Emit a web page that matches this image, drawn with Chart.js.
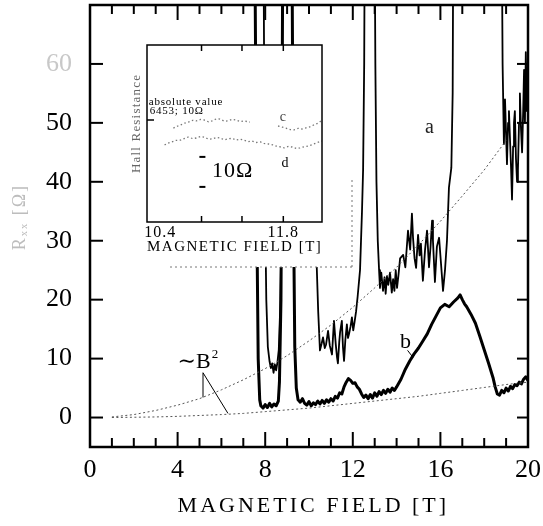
<!DOCTYPE html>
<html>
<head>
<meta charset="utf-8">
<script src="https://cdn.jsdelivr.net/npm/chart.js@4.4.1/dist/chart.umd.min.js"></script>
<style>
  html, body { margin: 0; padding: 0; background: #fff; }
  #wrap { position: relative; width: 543px; height: 526px; overflow: hidden; }
  #main { position: absolute; left: 0; top: 0; }
  #inset { position: absolute; left: 125px; top: 40px; }
</style>
</head>
<body>
<div id="wrap">
  <canvas id="main" width="543" height="526" style="width:543px;height:526px"></canvas>
  <canvas id="inset" width="235" height="232" style="width:235px;height:232px"></canvas>
</div>
<script>
// ---- main panel data (field in T, resistance in Ohm) ----
const xTicks = [0, 4, 8, 12, 16, 20];
const yTicks = [0, 10, 20, 30, 40, 50, 60];

// curve a (thin); values above 70 run off the top of the frame
const aField = [7.90, 7.98, 8.05, 8.12, 8.20, 8.26, 8.32, 8.38, 8.44, 8.50, 8.56, 8.62, 8.68, 8.74, 8.82,
  9.00, 9.50, 10.00, 10.25, 10.35, 10.42, 10.50, 10.58, 10.64, 10.72, 10.78, 10.87, 10.95, 11.05, 11.14,
  11.22, 11.28, 11.32, 11.38, 11.42, 11.50, 11.55, 11.60, 11.66, 11.73, 11.78, 11.83, 11.90, 11.96, 12.02,
  12.08, 12.15, 12.22, 12.33, 12.42, 12.47, 12.52, 12.56,
  12.98, 13.03, 13.08, 13.14, 13.20, 13.24, 13.30, 13.38, 13.45, 13.50, 13.56, 13.62, 13.70, 13.78, 13.84,
  13.90, 13.96, 14.02, 14.08, 14.16, 14.30, 14.40, 14.52, 14.62, 14.70, 14.75, 14.82, 14.89, 14.98, 15.05,
  15.11, 15.20, 15.30, 15.39, 15.48, 15.55, 15.62, 15.66, 15.75, 15.84, 15.94, 16.03, 16.12, 16.21, 16.30,
  16.39, 16.50, 16.56, 16.60,
  18.78, 18.84, 18.90, 18.95, 19.00, 19.04, 19.09, 19.13, 19.18, 19.23, 19.27, 19.32, 19.36, 19.40, 19.45,
  19.50, 19.54, 19.59, 19.63, 19.68, 19.73, 19.78, 19.82, 19.86, 19.90, 19.95, 20.00];
const aRes = [95, 40, 20, 12, 9.5, 8.4, 9.2, 7.6, 9.0, 8.0, 9.4, 11.5, 18, 30, 45,
  56, 61, 58, 45, 26, 18, 11.4, 12.6, 13.6, 11.8, 12.4, 14.7, 12.2, 10.7, 16.4,
  12.5, 10.2, 9.2, 12.8, 14.5, 16.4, 12.0, 9.6, 13.2, 15.8, 13.5, 14.2, 15.5, 17.0, 14.8,
  16.2, 18.0, 20.5, 25, 35, 42, 60, 95,
  95, 60, 40, 30, 25, 22, 24.6, 21.5, 23.8, 21.0, 24.0, 22.5, 24.6, 21.2, 23.5,
  21.5, 25.0, 22.0, 24.0, 27.0, 27.6, 25.5, 31.7, 28.5, 34.6, 30.5, 27.0, 25.4, 31.0, 27.5,
  29.5, 23.2, 28.5, 31.7, 25.5, 29.0, 33.4, 30.0, 23.0, 29.0, 30.5, 26.0, 21.5, 25.0, 30.0,
  39.0, 42.4, 55, 95,
  95, 60, 46.4, 54, 48, 43, 50, 52, 47, 42, 37, 46, 50, 52, 44,
  40, 42, 50, 55, 49, 45, 52, 59, 50, 62, 52, 56];

// curve b (thick)
const bField = [7.50, 7.60, 7.68, 7.75, 7.80, 7.90, 8.00, 8.10, 8.20, 8.30, 8.40, 8.50, 8.60, 8.65, 8.72,
  8.78, 8.82, 9.20, 9.28, 9.35, 9.42, 9.50, 9.60, 9.70, 9.80, 9.90, 10.0, 10.1, 10.2, 10.3,
  10.4, 10.5, 10.6, 10.7, 10.8, 10.9, 11.0, 11.1, 11.2, 11.3, 11.4, 11.5, 11.6, 11.7, 11.8,
  11.9, 12.0, 12.1, 12.2, 12.3, 12.4, 12.5, 12.6, 12.7, 12.8, 12.9, 13.0, 13.1, 13.2, 13.3,
  13.4, 13.5, 13.6, 13.7, 13.8, 13.9, 14.0, 14.2, 14.4, 14.6, 14.8, 15.0, 15.2, 15.4, 15.6,
  15.8, 16.0, 16.2, 16.4, 16.6, 16.8, 16.9, 17.0, 17.1, 17.2, 17.4, 17.6, 17.8, 18.0, 18.2,
  18.4, 18.5, 18.6, 18.7, 18.8, 18.9, 19.0, 19.1, 19.2, 19.3, 19.4, 19.5, 19.6, 19.7, 19.8,
  19.9, 20.0];
const bRes = [95, 40, 10, 3, 2, 1.6, 2.2, 1.7, 2.4, 1.8, 2.3, 2.0, 2.8, 6, 20,
  60, 95, 95, 40, 12, 5, 3, 2.6, 3.2, 2.4, 2.1, 2.7, 2.0, 2.5, 2.2,
  2.8, 2.3, 2.9, 2.4, 3.0, 2.6, 3.2, 2.8, 3.6, 3.3, 4.2, 4.0, 5.2, 6.0, 6.6,
  6.3, 5.8, 5.9, 5.2, 4.8, 4.0, 3.4, 3.8, 3.2, 3.9, 3.3, 4.2, 3.6, 4.4, 3.9,
  4.6, 4.1, 4.8, 4.3, 5.0, 4.6, 5.2, 6.5, 8.2, 9.6, 10.8, 11.8, 13.0, 14.2, 15.8,
  17.2, 18.6, 19.2, 18.8, 19.6, 20.3, 20.8, 20.0, 19.3, 18.8, 17.5, 16.0, 13.8, 11.5, 9.2,
  6.8, 5.2, 4.0, 3.8, 4.6, 4.2, 5.0, 4.5, 5.3, 4.9, 5.6, 5.4, 6.0, 5.7, 6.5,
  6.9, 6.3];

// dotted ~B^2 backgrounds
const bgAField = [1, 2, 3, 4, 5, 6, 7, 8, 9, 10, 11, 12, 13, 14, 15, 16, 17, 18, 19];
const bgARes = [0.1, 0.5, 1.2, 2.1, 3.2, 4.7, 6.4, 8.3, 10.5, 13, 15.7, 18.7, 22, 25.5, 29.3, 33.3, 37.6, 42, 47];
const bgBField = [1, 2, 3, 4, 5, 6, 7, 8, 9, 10, 11, 12, 13, 14, 15, 16, 17, 18, 19, 20];
const bgBRes = [0, 0.05, 0.1, 0.2, 0.35, 0.5, 0.7, 1.0, 1.3, 1.6, 2.0, 2.4, 2.8, 3.2, 3.6, 4.1, 4.6, 5.1, 5.6, 6.0];

// leader lines for the labels
const b2LeaderField = [5.16, 5.16, null, 5.16, 6.3];
const b2LeaderRes = [3.4, 7.6, null, 7.6, 0.7];
const bLeaderField = [14.5, 14.75];
const bLeaderRes = [11.4, 10.2];

// ---- inset data ----
const insetTicks = [10.4, 10.87, 11.33, 11.8];
const insetLabels = [10.4, 11.8];
const cField = [10.55, 10.60, 10.63, 10.68, 10.72, 10.77, 10.81, 10.86, 10.90, 10.95, 10.99, 11.04, 11.08, 11.13,
  11.17, 11.22, 11.26, 11.31, 11.35, 11.42, 11.60, 11.74, 11.79, 11.83, 11.88, 11.92, 11.97, 12.01, 12.06,
  12.10, 12.15, 12.20, 12.24];
const cRes = [31.3, 32.0, 32.3, 33.0, 33.3, 33.9, 33.7, 34.2, 34.0, 33.4, 33.7, 34.4, 34.3, 33.6,
  33.7, 34.2, 34.0, 33.5, 33.7, 33.3, null, 32.0, 31.6, 31.3, 30.8, 30.7, 31.2, 31.0, 31.4,
  31.7, 32.4, 33.0, 34.0];
const dField = [10.45, 10.49, 10.53, 10.58, 10.63, 10.68, 10.72, 10.77, 10.81, 10.86, 10.90, 10.95, 10.99, 11.04,
  11.08, 11.13, 11.17, 11.22, 11.26, 11.31, 11.35, 11.40, 11.44, 11.49, 11.54, 11.58, 11.63, 11.68, 11.72,
  11.77, 11.81, 11.86, 11.90, 11.95, 11.99, 12.04, 12.08, 12.13, 12.17, 12.24];
const dRes = [25.7, 26.3, 26.7, 27.2, 27.3, 27.9, 28.3, 27.8, 28.0, 28.5, 28.3, 27.6, 27.7, 28.2,
  28.0, 27.4, 27.7, 27.9, 27.3, 27.6, 27.3, 26.8, 27.0, 26.5, 26.7, 26.2, 26.0, 25.7, 25.3,
  25.0, 24.7, 25.2, 25.0, 24.5, 24.7, 25.1, 25.3, 25.8, 26.3, 27.0];

const serif = "'Liberation Serif', 'DejaVu Serif', serif";

function pts(xs, ys) {
  return xs.map((v, i) => ({ x: v, y: v === null ? null : ys[i] }));
}

function seg(ctx, x1, y1, x2, y2) {
  ctx.beginPath();
  ctx.moveTo(x1, y1);
  ctx.lineTo(x2, y2);
  ctx.stroke();
}

const mainFrame = {
  id: 'mainFrame',
  afterDraw(chart) {
    const { ctx, chartArea: a, scales: { x, y } } = chart;
    ctx.save();
    ctx.strokeStyle = '#000';
    ctx.lineWidth = 2.5;
    ctx.strokeRect(a.left, a.top, a.right - a.left, a.bottom - a.top);

    // inward tick marks
    ctx.lineWidth = 2;
    for (let b = 1; b < 20; b++) {
      const px = x.getPixelForValue(b);
      const len = b % 4 === 0 ? 15 : 9;
      seg(ctx, px, a.bottom, px, a.bottom - len);
      seg(ctx, px, a.top, px, a.top + len);
    }
    yTicks.forEach(v => {
      const py = y.getPixelForValue(v);
      seg(ctx, a.left, py, a.left + 13, py);
      seg(ctx, a.right, py, a.right - 11, py);
    });

    // axis titles
    ctx.fillStyle = '#000';
    ctx.font = '22px ' + serif;
    ctx.letterSpacing = '3px';
    ctx.textAlign = 'center';
    ctx.textBaseline = 'middle';
    ctx.fillText('MAGNETIC FIELD [T]', x.getPixelForValue(10.2), 506);

    ctx.save();
    ctx.translate(20, y.getPixelForValue(34));
    ctx.rotate(-Math.PI / 2);
    ctx.fillStyle = '#bdbdbd';
    ctx.font = '18px ' + serif;
    ctx.letterSpacing = '2px';
    ctx.fillText('R\u2093\u2093 [\u03A9]', 0, 0);
    ctx.restore();

    // curve labels
    ctx.letterSpacing = '0px';
    ctx.textAlign = 'left';
    ctx.fillStyle = '#222';
    ctx.font = '20px ' + serif;
    ctx.fillText('a', x.getPixelForValue(15.3), y.getPixelForValue(49.2));
    ctx.fillStyle = '#000';
    ctx.font = '22px ' + serif;
    ctx.fillText('b', x.getPixelForValue(14.15), y.getPixelForValue(12.7));
    const bx = x.getPixelForValue(4.0), by = y.getPixelForValue(9.4);
    ctx.fillText('\u223CB', bx, by);
    const w = ctx.measureText('\u223CB').width;
    ctx.font = '13px ' + serif;
    ctx.fillText('2', bx + w + 1, by - 8);
    ctx.restore();
  }
};

new Chart(document.getElementById('main'), {
  type: 'line',
  data: {
    datasets: [
      { data: pts(bgAField, bgARes), borderColor: '#555', borderWidth: 1, borderDash: [2, 2.5] },
      { data: pts(bgBField, bgBRes), borderColor: '#555', borderWidth: 1, borderDash: [2, 2.5] },
      { data: pts(aField, aRes), borderColor: '#000', borderWidth: 1.8 },
      { data: pts(bField, bRes), borderColor: '#000', borderWidth: 3 },
      { data: pts(b2LeaderField, b2LeaderRes), borderColor: '#000', borderWidth: 1 },
      { data: pts(bLeaderField, bLeaderRes), borderColor: '#000', borderWidth: 1 }
    ]
  },
  options: {
    responsive: false,
    animation: false,
    events: [],
    spanGaps: false,
    elements: { point: { radius: 0 }, line: { tension: 0, borderJoinStyle: 'round' } },
    layout: { padding: { top: 5, right: 15, left: 0, bottom: 0 } },
    plugins: { legend: { display: false }, tooltip: { enabled: false } },
    scales: {
      x: {
        type: 'linear', min: 0, max: 20,
        grid: { display: false, drawTicks: false },
        border: { display: false },
        afterBuildTicks: s => { s.ticks = xTicks.map(v => ({ value: v })); },
        afterFit: s => { s.height = 79; s.paddingLeft = 0; s.paddingRight = 0; },
        ticks: { padding: 8, color: '#000', autoSkip: false, maxRotation: 0, font: { family: serif, size: 26 } }
      },
      y: {
        type: 'linear', min: -5, max: 70,
        grid: { display: false, drawTicks: false },
        border: { display: false },
        afterBuildTicks: s => { s.ticks = yTicks.map(v => ({ value: v })); },
        afterFit: s => { s.width = 90; s.paddingTop = 0; s.paddingBottom = 0; },
        ticks: {
          padding: 18, autoSkip: false,
          color: c => c.tick.value === 60 ? '#c8c8c8' : '#000',
          font: { family: serif, size: 26 }
        }
      }
    }
  },
  plugins: [mainFrame]
});

// ---- inset panel ----
const insetFrame = {
  id: 'insetFrame',
  beforeDraw(chart) {
    const ctx = chart.ctx;
    ctx.save();
    ctx.fillStyle = '#fff';
    ctx.fillRect(5, 5, 222, 222);
    ctx.restore();
  },
  afterDraw(chart) {
    const { ctx, chartArea: a, scales: { x, y } } = chart;
    ctx.save();
    ctx.strokeStyle = '#000';
    ctx.lineWidth = 1.5;
    ctx.strokeRect(a.left, a.top, a.right - a.left, a.bottom - a.top);
    insetTicks.slice(1).forEach(v => {
      const px = x.getPixelForValue(v);
      seg(ctx, px, a.bottom, px, a.bottom - 6);
      seg(ctx, px, a.top, px, a.top + 6);
    });
    seg(ctx, a.left, y.getPixelForValue(34), a.left + 7, y.getPixelForValue(34));

    // 10 Ohm scale bar ends
    ctx.lineWidth = 2;
    const sx = x.getPixelForValue(10.88);
    [21.7, 11.7].forEach(v => seg(ctx, sx - 3, y.getPixelForValue(v), sx + 3, y.getPixelForValue(v)));

    // dotted border of the pasted-in panel
    ctx.strokeStyle = '#777';
    ctx.lineWidth = 1;
    ctx.setLineDash([2, 3]);
    seg(ctx, 227, 140, 227, 227);
    seg(ctx, 45, 227, 227, 227);
    ctx.setLineDash([]);

    ctx.fillStyle = '#000';
    ctx.textBaseline = 'middle';
    ctx.textAlign = 'center';
    ctx.font = '16px ' + serif;
    ctx.letterSpacing = '1px';
    insetLabels.forEach(v => ctx.fillText(String(v), x.getPixelForValue(v), a.bottom + 11));
    ctx.textAlign = 'left';
    ctx.font = '15px ' + serif;
    ctx.letterSpacing = '1.5px';
    ctx.fillText('MAGNETIC FIELD [T]', a.left, a.bottom + 25);

    ctx.font = '11px ' + serif;
    ctx.letterSpacing = '0.8px';
    ctx.fillText('absolute value', x.getPixelForValue(10.27), y.getPixelForValue(40));
    ctx.fillText('6453; 10\u03A9', x.getPixelForValue(10.28), y.getPixelForValue(37));

    ctx.letterSpacing = '1px';
    ctx.font = '22px ' + serif;
    ctx.fillText('10\u03A9', x.getPixelForValue(10.99), y.getPixelForValue(17));
    ctx.font = '14px ' + serif;
    ctx.fillStyle = '#444';
    ctx.fillText('c', x.getPixelForValue(11.76), y.getPixelForValue(35));
    ctx.fillStyle = '#000';
    ctx.fillText('d', x.getPixelForValue(11.78), y.getPixelForValue(19.7));

    ctx.save();
    ctx.translate(12, (a.top + a.bottom) / 2 - 10);
    ctx.rotate(-Math.PI / 2);
    ctx.textAlign = 'center';
    ctx.fillStyle = '#666';
    ctx.font = '13px ' + serif;
    ctx.letterSpacing = '1.2px';
    ctx.fillText('Hall Resistance', 0, 0);
    ctx.restore();
    ctx.restore();
  }
};

new Chart(document.getElementById('inset'), {
  type: 'line',
  data: {
    datasets: [
      { data: pts(cField, cRes), borderColor: '#777', borderWidth: 1.3, borderDash: [1.5, 2.5] },
      { data: pts(dField, dRes), borderColor: '#777', borderWidth: 1.3, borderDash: [1.5, 2.5] }
    ]
  },
  options: {
    responsive: false,
    animation: false,
    events: [],
    spanGaps: false,
    elements: { point: { radius: 0 }, line: { tension: 0 } },
    layout: { padding: { left: 22, top: 5, right: 38, bottom: 50 } },
    plugins: { legend: { display: false }, tooltip: { enabled: false } },
    scales: {
      x: { type: 'linear', min: 10.25, max: 12.24, display: false },
      y: { type: 'linear', min: 0, max: 59, display: false }
    }
  },
  plugins: [insetFrame]
});
</script>
</body>
</html>
